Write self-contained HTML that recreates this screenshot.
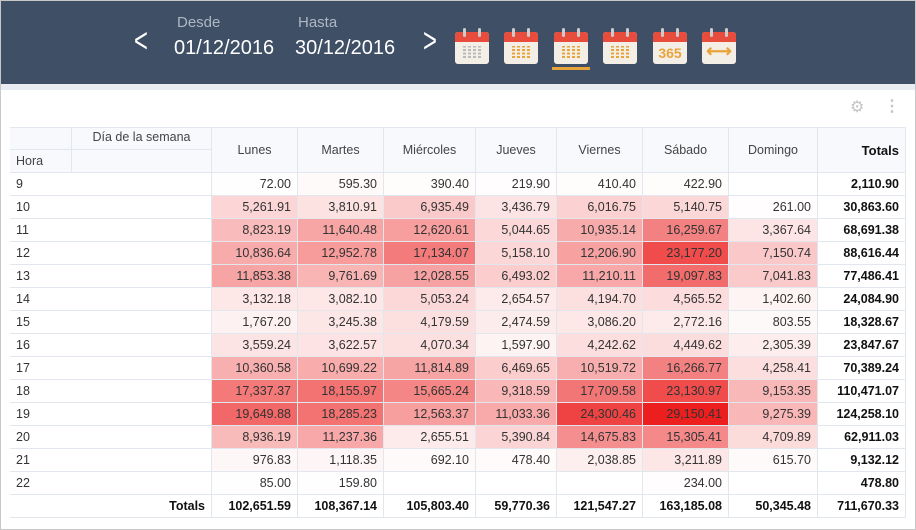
<!DOCTYPE html>
<html><head><meta charset="utf-8"><style>
body{margin:0;width:916px;height:530px;overflow:hidden;background:#fff;font-family:"Liberation Sans",sans-serif;}
.frame{position:absolute;left:0;top:0;width:914px;height:528px;border:1px solid #c8c8c8;}
.hdr{position:absolute;left:0;top:0;width:916px;height:84px;background:#3e4f66;}
.strip{position:absolute;left:0;top:84px;width:916px;height:6px;background:#e9edf2;}
.lbl{position:absolute;color:#aeb8c5;font-size:15px;}
.date{position:absolute;color:#fff;font-size:20px;}
.arr{position:absolute;color:#fff;font-size:34px;top:22px;transform:scaleX(0.7);}
.cal{position:absolute;top:28px;width:34px;height:36px;}
.cal .b{position:absolute;left:0;top:4px;width:34px;height:32px;background:#f4efe6;border-radius:3px;}
.cal .t{position:absolute;left:0;top:4px;width:34px;height:10px;background:#e84c3d;border-radius:3px 3px 0 0;}
.cal .r{position:absolute;top:0;width:3px;height:9px;background:#ccc;border-radius:2px;}
.cal .g{position:absolute;left:8px;top:18px;width:18px;height:12px;background:repeating-linear-gradient(90deg,var(--c) 0 3px,transparent 3px 5px);-webkit-mask:repeating-linear-gradient(0deg,#000 0 2px,transparent 2px 3.5px);}
table{position:absolute;left:10px;top:127px;border-collapse:collapse;font-size:12.5px;color:#333;}
td{border:1px solid #e2e7ee;height:22px;padding:0 6px;text-align:right;white-space:nowrap;}
td.h{text-align:left;background:#fff;border-left:none;}
.head td{background:#f7f9fc;text-align:center;color:#444;}
td.tot{font-weight:bold;color:#111;}
</style></head><body>
<div class="hdr"></div><div class="strip"></div>
<div class="arr" style="left:131px">&lt;</div>
<div class="arr" style="left:420px">&gt;</div>
<div class="lbl" style="left:177px;top:14px">Desde</div>
<div class="lbl" style="left:298px;top:14px">Hasta</div>
<div class="date" style="left:174px;top:37px">01/12/2016</div>
<div class="date" style="left:295px;top:37px">30/12/2016</div>

<div class="cal" style="left:455px;--c:#bbb"><div class="b"></div><div class="t"></div><div class="r" style="left:8px"></div><div class="r" style="left:23px"></div><div class="g"></div></div>
<div class="cal" style="left:504px;--c:#e9a33b"><div class="b"></div><div class="t"></div><div class="r" style="left:8px"></div><div class="r" style="left:23px"></div><div class="g"></div></div>
<div class="cal" style="left:554px;--c:#e9a33b"><div class="b"></div><div class="t"></div><div class="r" style="left:8px"></div><div class="r" style="left:23px"></div><div class="g"></div></div>
<div style="position:absolute;left:552px;top:67px;width:38px;height:3px;background:#e9a33b"></div>
<div class="cal" style="left:603px;--c:#e9a33b"><div class="b"></div><div class="t"></div><div class="r" style="left:8px"></div><div class="r" style="left:23px"></div><div class="g"></div></div>
<div class="cal" style="left:653px"><div class="b"></div><div class="t"></div><div class="r" style="left:8px"></div><div class="r" style="left:23px"></div><div style="position:absolute;left:1px;top:17px;width:32px;text-align:center;color:#e9a33b;font-weight:bold;font-size:14px">365</div></div>
<div class="cal" style="left:702px"><div class="b"></div><div class="t"></div><div class="r" style="left:8px"></div><div class="r" style="left:23px"></div><div style="position:absolute;left:1px;top:13px;width:32px;text-align:center;color:#e9a33b;font-weight:bold;font-size:18px">⟷</div></div>

<div style="position:absolute;left:850px;top:97px;color:#c4c4c4;font-size:16px">⚙</div>
<div style="position:absolute;left:884px;top:96px;color:#c4c4c4;font-size:16px;font-weight:bold">⋮</div>

<table>
<tr class="head"><td style="width:49px;border-bottom:none;border-left:none;height:21px"></td><td style="width:127px;text-align:center;vertical-align:top;border-bottom:none;padding-top:2px;height:19px">Día de la semana</td><td rowspan="2" style="width:73px">Lunes</td><td rowspan="2" style="width:73px">Martes</td><td rowspan="2" style="width:79px">Miércoles</td><td rowspan="2" style="width:68px">Jueves</td><td rowspan="2" style="width:73px">Viernes</td><td rowspan="2" style="width:73px">Sábado</td><td rowspan="2" style="width:76px">Domingo</td><td rowspan="2" style="width:75px;text-align:right;font-weight:bold;color:#111;font-size:13px">Totals</td></tr>
<tr class="head"><td style="text-align:left;border-left:none;height:22px">Hora</td><td style="height:22px"></td></tr>
<tr><td class="h" colspan="2">9</td><td>72.00</td><td>595.30</td><td>390.40</td><td>219.90</td><td>410.40</td><td>422.90</td><td></td><td class="tot">2,110.90</td></tr>
<tr><td class="h" colspan="2">10</td><td>5,261.91</td><td>3,810.91</td><td>6,935.49</td><td>3,436.79</td><td>6,016.75</td><td>5,140.75</td><td>261.00</td><td class="tot">30,863.60</td></tr>
<tr><td class="h" colspan="2">11</td><td>8,823.19</td><td>11,640.48</td><td>12,620.61</td><td>5,044.65</td><td>10,935.14</td><td>16,259.67</td><td>3,367.64</td><td class="tot">68,691.38</td></tr>
<tr><td class="h" colspan="2">12</td><td>10,836.64</td><td>12,952.78</td><td>17,134.07</td><td>5,158.10</td><td>12,206.90</td><td>23,177.20</td><td>7,150.74</td><td class="tot">88,616.44</td></tr>
<tr><td class="h" colspan="2">13</td><td>11,853.38</td><td>9,761.69</td><td>12,028.55</td><td>6,493.02</td><td>11,210.11</td><td>19,097.83</td><td>7,041.83</td><td class="tot">77,486.41</td></tr>
<tr><td class="h" colspan="2">14</td><td>3,132.18</td><td>3,082.10</td><td>5,053.24</td><td>2,654.57</td><td>4,194.70</td><td>4,565.52</td><td>1,402.60</td><td class="tot">24,084.90</td></tr>
<tr><td class="h" colspan="2">15</td><td>1,767.20</td><td>3,245.38</td><td>4,179.59</td><td>2,474.59</td><td>3,086.20</td><td>2,772.16</td><td>803.55</td><td class="tot">18,328.67</td></tr>
<tr><td class="h" colspan="2">16</td><td>3,559.24</td><td>3,622.57</td><td>4,070.34</td><td>1,597.90</td><td>4,242.62</td><td>4,449.62</td><td>2,305.39</td><td class="tot">23,847.67</td></tr>
<tr><td class="h" colspan="2">17</td><td>10,360.58</td><td>10,699.22</td><td>11,814.89</td><td>6,469.65</td><td>10,519.72</td><td>16,266.77</td><td>4,258.41</td><td class="tot">70,389.24</td></tr>
<tr><td class="h" colspan="2">18</td><td>17,337.37</td><td>18,155.97</td><td>15,665.24</td><td>9,318.59</td><td>17,709.58</td><td>23,130.97</td><td>9,153.35</td><td class="tot">110,471.07</td></tr>
<tr><td class="h" colspan="2">19</td><td>19,649.88</td><td>18,285.23</td><td>12,563.37</td><td>11,033.36</td><td>24,300.46</td><td>29,150.41</td><td>9,275.39</td><td class="tot">124,258.10</td></tr>
<tr><td class="h" colspan="2">20</td><td>8,936.19</td><td>11,237.36</td><td>2,655.51</td><td>5,390.84</td><td>14,675.83</td><td>15,305.41</td><td>4,709.89</td><td class="tot">62,911.03</td></tr>
<tr><td class="h" colspan="2">21</td><td>976.83</td><td>1,118.35</td><td>692.10</td><td>478.40</td><td>2,038.85</td><td>3,211.89</td><td>615.70</td><td class="tot">9,132.12</td></tr>
<tr><td class="h" colspan="2">22</td><td>85.00</td><td>159.80</td><td></td><td></td><td></td><td>234.00</td><td></td><td class="tot">478.80</td></tr>
<tr><td class="h tot" colspan="2" style="text-align:right">Totals</td><td class="tot">102,651.59</td><td class="tot">108,367.14</td><td class="tot">105,803.40</td><td class="tot">59,770.36</td><td class="tot">121,547.27</td><td class="tot">163,185.08</td><td class="tot">50,345.48</td><td class="tot">711,670.33</td></tr>
</table>
<div class="frame"></div>
<script>
document.querySelectorAll('table tr').forEach(function(tr,i){
 if(i<2||i>15)return;
 var tds=tr.querySelectorAll('td');
 for(var k=1;k<=7;k++){var td=tds[k];var v=parseFloat(td.textContent.replace(/,/g,''));
  if(!isNaN(v)){var t=Math.min(1,v/29150);
   var r=Math.round(255-(255-236)*t),g=Math.round(255-(255-30)*t),b=Math.round(255-(255-30)*t);
   td.style.background='rgb('+r+','+g+','+b+')';}}
});
</script>
</body></html>
